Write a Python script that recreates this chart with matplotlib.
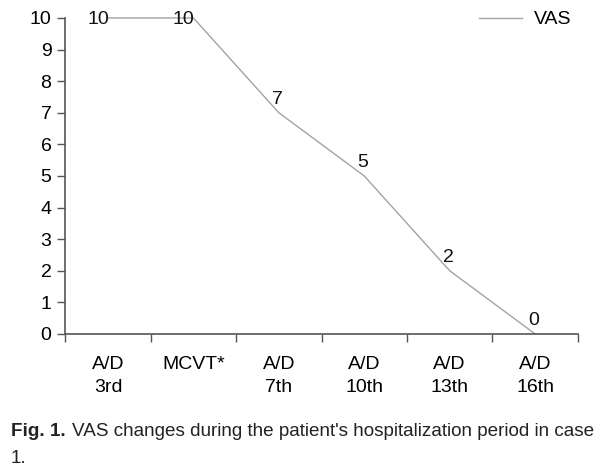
import matplotlib.pyplot as plt
import numpy as np

# data
labels = ['A/D\n3rd', 'MCVT*', 'A/D\n7th', 'A/D\n10th', 'A/D\n13th', 'A/D\n16th']
vas = [10, 10, 7, 5, 2, 0]
caption_bold = 'Fig. 1.'
caption_rest = "VAS changes during the patient's hospitalization period in case"

plt.rcParams['font.family'] = ['Liberation Sans', 'DejaVu Sans']
fs = 14

fig = plt.figure(figsize=(6.16, 4.73), dpi=100)
ax = fig.add_axes([0.106, 0.294, 0.832, 0.668])

x = np.arange(len(vas))
ax.plot(x, vas, color='#a3a3a3', lw=1.0, label='VAS', clip_on=False)

for xi, v in zip(x, vas):
    if v == max(vas):
        ax.annotate(str(v), (xi, v), xytext=(-7, -1), textcoords='offset points',
                    ha='center', va='center', fontsize=fs, color='#111111')
    else:
        ax.annotate(str(v), (xi, v), xytext=(-1, 6.5), textcoords='offset points',
                    ha='center', va='baseline', fontsize=fs, color='#111111')

ax.set_xlim(-0.5, len(vas) - 0.5)
ax.set_ylim(0, 10)
ax.set_yticks(range(0, 11))
ax.tick_params(axis='y', labelsize=fs, length=6, width=1, color='#555555', pad=4)

# major ticks on category boundaries, labels on minor ticks at centers
ax.set_xticks(np.arange(-0.5, len(vas)), minor=False)
ax.set_xticklabels([])
ax.set_xticks(x, minor=True)
ax.set_xticklabels(labels, minor=True, fontsize=fs, linespacing=1.45, va='top')
ax.tick_params(axis='x', which='major', length=6, width=1, color='#555555')
ax.tick_params(axis='x', which='minor', length=0, pad=16)

for s in ['top', 'right']:
    ax.spines[s].set_visible(False)
for s in ['left', 'bottom']:
    ax.spines[s].set_color('#555555')
    ax.spines[s].set_linewidth(1.2)

ax.legend(loc='center left', bbox_to_anchor=(0.793, 0.995), frameon=False,
          fontsize=fs, handlelength=2.2, handletextpad=0.62, borderaxespad=0)

# caption: bold part, then regular text right after it
fig.canvas.draw()
r = fig.canvas.get_renderer()
cfs = 13.6
t1 = fig.text(11 / 616, 1 - 436 / 473, caption_bold, fontsize=cfs, fontweight='bold',
              va='baseline', color='#222222')
bb = t1.get_window_extent(renderer=r)
fig.text((bb.x1 + 6) / 616, 1 - 436 / 473, caption_rest, fontsize=cfs,
         va='baseline', color='#222222')
fig.text(11 / 616, 1 - 463 / 473, '1.', fontsize=cfs, va='baseline', color='#222222')

fig.savefig('out.png', dpi=100)
